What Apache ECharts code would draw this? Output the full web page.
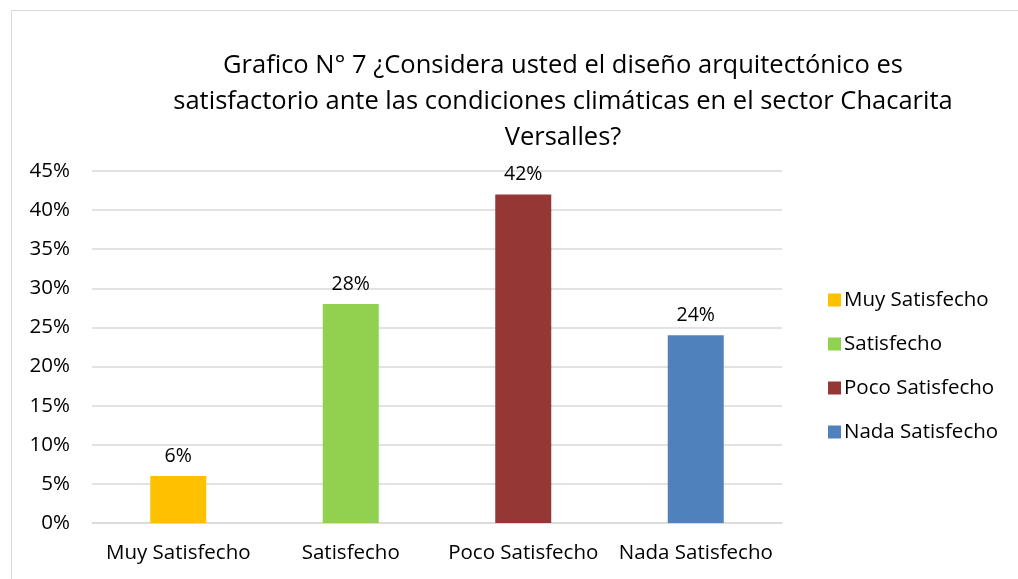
<!DOCTYPE html>
<html><head><meta charset="utf-8">
<script src="https://cdn.jsdelivr.net/npm/echarts@6/dist/echarts.min.js"></script>
<style>html,body{margin:0;padding:0;background:#fff}#c{width:1018px;height:579px;position:relative}
#b{position:absolute;left:11px;top:10px;width:1020px;height:600px;border:1.5px solid #d9d9d9;box-sizing:border-box;pointer-events:none}</style>
</head><body><div id="c"></div><div id="b"></div>
<script>
const categories = ['Muy Satisfecho','Satisfecho','Poco Satisfecho','Nada Satisfecho'];
const values = [6, 28, 42, 24];
const colors = ['#FFC000','#92D050','#953735','#4F81BD'];
const yTicks = [0,5,10,15,20,25,30,35,40,45];
const titleText = 'Grafico N° 7 ¿Considera usted el diseño arquitectónico es\nsatisfactorio ante las condiciones climáticas en el sector Chacarita\nVersalles?';
const FF = '"Open Sans", "Noto Sans", sans-serif';
const chart = echarts.init(document.getElementById('c'));
const series = categories.map((name,i)=>({
  name, type:'bar', stack:'s', barWidth:56,
  data: categories.map((c,j)=> j===i ? values[i] : '-'),
  itemStyle:{color:colors[i]},
  label:{show:true, position:'top', distance:10, formatter:p=>p.value+'%', color:'#000', fontFamily:FF, fontSize:19.5}
}));
chart.setOption({
  animation:false,
  title:{text:titleText, left:558, textAlign:'center', top:43, textStyle:{fontFamily:FF, fontWeight:'normal', fontSize:25.5, lineHeight:36, color:'#000'}},
  legend:{orient:'vertical', left:823, top:283, itemWidth:13, itemHeight:13, itemGap:20, icon:'rect',
    textStyle:{fontFamily:FF, fontSize:20.5, lineHeight:24, color:'#000', padding:[0,0,0,-2]}, data:categories},
  grid:{left:92, right:236, top:171, bottom:56, containLabel:false},
  xAxis:{type:'category', data:categories, axisTick:{show:false},
    axisLine:{lineStyle:{color:'#d9d9d9', width:1.5}},
    axisLabel:{interval:0, color:'#000', fontFamily:FF, fontSize:20.5, margin:20}},
  yAxis:{type:'value', min:0, max:45, interval:5, axisLine:{show:false}, axisTick:{show:false},
    splitLine:{lineStyle:{color:'#d9d9d9', width:1.5}},
    axisLabel:{formatter:v=>v+'%', color:'#000', fontFamily:FF, fontSize:20.5, margin:22}},
  series
});
</script></body></html>
